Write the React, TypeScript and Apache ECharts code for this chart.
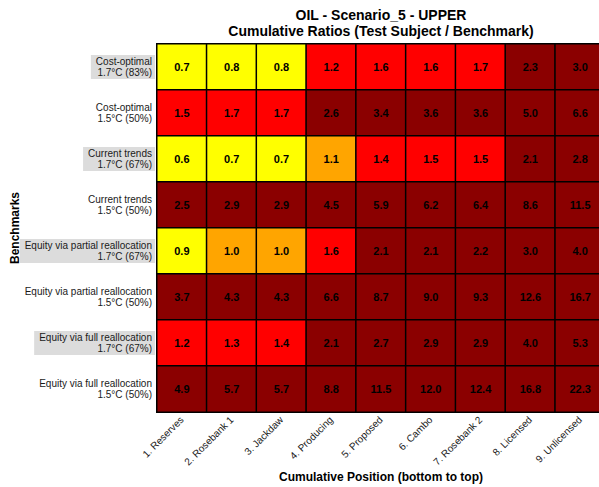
import React, { useEffect, useRef } from "react";
import * as echarts from "echarts";

const positions = [
  "1. Reserves",
  "2. Rosebank 1",
  "3. Jackdaw",
  "4. Producing",
  "5. Proposed",
  "6. Cambo",
  "7. Rosebank 2",
  "8. Licensed",
  "9. Unlicensed",
];

const benchmarks = [
  "Cost-optimal\n1.7°C (83%)",
  "Cost-optimal\n1.5°C (50%)",
  "Current trends\n1.7°C (67%)",
  "Current trends\n1.5°C (50%)",
  "Equity via partial reallocation\n1.7°C (67%)",
  "Equity via partial reallocation\n1.5°C (50%)",
  "Equity via full reallocation\n1.7°C (67%)",
  "Equity via full reallocation\n1.5°C (50%)",
];

const costOptimal17 = [0.7, 0.8, 0.8, 1.2, 1.6, 1.6, 1.7, 2.3, 3.0];
const costOptimal15 = [1.5, 1.7, 1.7, 2.6, 3.4, 3.6, 3.6, 5.0, 6.6];
const currentTrends17 = [0.6, 0.7, 0.7, 1.1, 1.4, 1.5, 1.5, 2.1, 2.8];
const currentTrends15 = [2.5, 2.9, 2.9, 4.5, 5.9, 6.2, 6.4, 8.6, 11.5];
const equityPartial17 = [0.9, 1.0, 1.0, 1.6, 2.1, 2.1, 2.2, 3.0, 4.0];
const equityPartial15 = [3.7, 4.3, 4.3, 6.6, 8.7, 9.0, 9.3, 12.6, 16.7];
const equityFull17 = [1.2, 1.3, 1.4, 2.1, 2.7, 2.9, 2.9, 4.0, 5.3];
const equityFull15 = [4.9, 5.7, 5.7, 8.8, 11.5, 12.0, 12.4, 16.8, 22.3];

const rows = [
  costOptimal17,
  costOptimal15,
  currentTrends17,
  currentTrends15,
  equityPartial17,
  equityPartial15,
  equityFull17,
  equityFull15,
];

const FONT = "'Liberation Sans', Arial, sans-serif";

export default function App() {
  const ref = useRef<HTMLDivElement>(null);

  useEffect(() => {
    if (!ref.current) return;
    const chart = echarts.init(ref.current, undefined, { renderer: "svg" });

    const data: number[][] = [];
    rows.forEach((row, r) => {
      row.forEach((v, c) => data.push([c, r, v]));
    });

    const labelBase = {
      fontSize: 10,
      color: "#1a1a1a",
      fontFamily: FONT,
      lineHeight: 11,
    };

    chart.setOption({
      animation: false,
      backgroundColor: "#fff",
      title: {
        text: "OIL - Scenario_5 - UPPER\nCumulative Ratios (Test Subject / Benchmark)",
        left: 381,
        top: 7,
        padding: 0,
        textAlign: "center",
        textStyle: {
          fontSize: 14,
          fontWeight: "bold",
          color: "#000",
          fontFamily: FONT,
          lineHeight: 16,
        },
      },
      grid: {
        left: 157,
        top: 44,
        width: 448,
        height: 368,
        containLabel: false,
        outerBoundsMode: "none",
      },
      visualMap: {
        show: false,
        type: "piecewise",
        dimension: 2,
        pieces: [
          { lt: 0.95, color: "#ffff00" },
          { gte: 0.95, lt: 1.15, color: "#ffa500" },
          { gte: 1.15, lt: 1.95, color: "#ff0000" },
          { gte: 1.95, color: "#8b0000" },
        ],
      },
      xAxis: {
        type: "category",
        data: positions,
        name: "Cumulative Position (bottom to top)",
        nameLocation: "middle",
        nameGap: 59,
        nameMoveOverlap: false,
        nameTextStyle: { fontSize: 12, fontWeight: "bold", color: "#000", fontFamily: FONT },
        axisLine: { show: false },
        axisTick: { show: false },
        splitLine: { show: false },
        axisLabel: {
          rotate: 45,
          interval: 0,
          margin: 6,
          fontSize: 10,
          color: "#1a1a1a",
          fontFamily: FONT,
        },
      },
      yAxis: [
        {
          type: "category",
          data: benchmarks,
          inverse: true,
          name: "Benchmarks",
          nameLocation: "middle",
          nameGap: 136,
          nameMoveOverlap: false,
          nameTextStyle: { fontSize: 12, fontWeight: "bold", color: "#000", fontFamily: FONT },
          axisLine: { show: false },
          axisTick: { show: false },
          splitLine: { show: false },
          axisLabel: {
            ...labelBase,
            margin: 5,
            interval: (i: number) => i % 2 === 1,
          },
        },
        {
          type: "category",
          data: benchmarks,
          inverse: true,
          position: "left",
          axisLine: { show: false },
          axisTick: { show: false },
          splitLine: { show: false },
          axisLabel: {
            ...labelBase,
            margin: 2,
            backgroundColor: "#dcdcdc",
            padding: [1, 3, 1, 5],
            interval: (i: number) => i % 2 === 0,
          },
        },
      ],
      series: [
        {
          type: "heatmap",
          data,
          itemStyle: { borderColor: "#000", borderWidth: 1.5 },
          label: {
            show: true,
            formatter: (p: any) => Number(p.value[2]).toFixed(1),
            fontSize: 11,
            fontWeight: "bold",
            color: "#000",
            fontFamily: FONT,
          },
          emphasis: { disabled: true },
        },
      ],
    });

    return () => chart.dispose();
  }, []);

  return (
    <div
      ref={ref}
      style={{ position: "fixed", left: 0, top: 0, width: 599, height: 487 }}
    />
  );
}
